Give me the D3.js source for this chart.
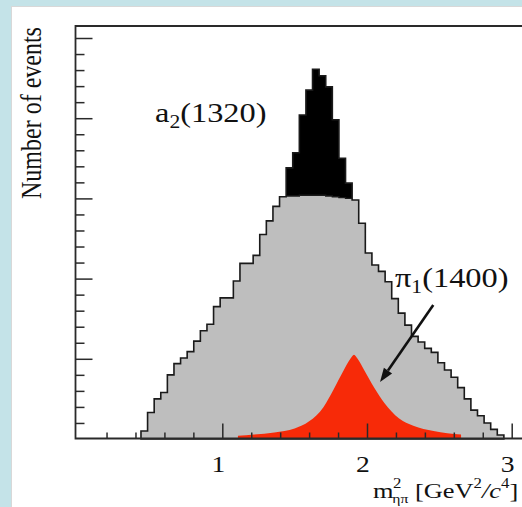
<!DOCTYPE html>
<html><head><meta charset="utf-8">
<script src="https://cdn.jsdelivr.net/npm/d3@7"></script>
<style>html,body{margin:0;padding:0;background:#c4e3e8;} svg{display:block}</style>
</head><body>
<svg id="c" width="522" height="507"></svg>
<script>
// ---- data ----
const binStart = 0.438;          // left edge of first bin, GeV^2/c^4
const binWidth = 0.0456;
const bgCounts = [10,33,50,58,80,94,101,109,122,135,143,165,176,176,197,219,219,229,255,272,290,302,
  303,303,304,304,304,304,303,302,301,300,
  298,269,232,217,209,196,175,157,142,128,121,113,108,95,86,77,64,50,36,29,20,12,5];
const a2FirstBin = 22;
const a2Counts = [35,54,100,131,157,149,136,96,49,19];
const pi1X = [1.108,1.22,1.36,1.50,1.60,1.70,1.77,1.84,1.885,1.91,1.935,1.98,2.05,2.12,2.22,2.32,2.46,2.65];
const pi1Y = [4,5.5,8,13,22,40,62,86,100,105,100,86,64,45,26,16.5,10,5.6];
const xMajorTicks = [1,2,3];
const xMinorTicks = [0.2,0.4,0.6,0.8,1.2,1.4,1.6,1.8,2.2,2.4,2.6,2.8,3.2];
const xTickLabels = ["1","2","3"];
const yMajorTicks = [100,200,300,400,500];
const yMinorTicks = [20,40,60,80,120,140,160,180,220,240,260,280,320,340,360,380,420,440,460,480];
const arrowFrom = [2.458,167];
const arrowTo = [2.09,71];

// ---- layout ----
const svg = d3.select("#c");
const FRAME = {left:75.5, top:26, bottom:438.5, right:540};
const x = d3.scaleLinear().domain([0,3.2]).range([77.6, 77.6+3.2*144.7]);
const y = d3.scaleLinear().domain([0,515]).range([439, 439-515*0.802]);
const serif = "'Liberation Serif','Times New Roman',serif";

// white panel
svg.append("rect").attr("x",11.5).attr("y",6.5).attr("width",560).attr("height",560)
  .attr("fill","#fff").attr("stroke","#d8d8d8").attr("stroke-width",1);

const bins = bgCounts.map((c,i)=>({x0:binStart+i*binWidth, x1:binStart+(i+1)*binWidth, bg:c,
  a2: (i>=a2FirstBin && i<a2FirstBin+a2Counts.length)? a2Counts[i-a2FirstBin] : 0}));

function stepPath(vals){
  let p = `M${x(bins[0].x0)},${y(0)}`;
  bins.forEach(b=>{ p += `L${x(b.x0)},${y(vals(b))}L${x(b.x1)},${y(vals(b))}`; });
  p += `L${x(bins[bins.length-1].x1)},${y(0)}Z`;
  return p;
}
// total (bg + a2) filled black, background drawn grey on top
svg.append("path").attr("d", stepPath(b=>b.bg+b.a2)).attr("fill","#000");
svg.append("path").attr("d", stepPath(b=>b.bg)).attr("fill","#bebebe");
// outline of total
svg.append("path").attr("d", stepPath(b=>b.bg+b.a2)).attr("fill","none")
  .attr("stroke","#1a1a1a").attr("stroke-width",1.6);
// dividing line between grey and black
const a2bins = bins.filter(b=>b.a2>0);
svg.append("path").attr("d", "M"+a2bins.map(b=>`${x(b.x0)},${y(b.bg)}L${x(b.x1)},${y(b.bg)}`).join("L"))
  .attr("fill","none").attr("stroke","#1a1a1a").attr("stroke-width",1.4);

// pi1 red curve
const pts = pi1X.map((v,i)=>[v,pi1Y[i]]);
svg.append("path").datum(pts)
  .attr("d", d3.area().x(d=>x(d[0])).y0(y(0)).y1(d=>y(d[1])).curve(d3.curveMonotoneX))
  .attr("fill","#f72a08");

// axes ticks
const gy1 = svg.append("g").attr("transform",`translate(${FRAME.left},0)`)
  .call(d3.axisRight(y).tickValues(yMinorTicks).tickSize(9).tickFormat(""));
const gy2 = svg.append("g").attr("transform",`translate(${FRAME.left},0)`)
  .call(d3.axisRight(y).tickValues(yMajorTicks).tickSize(17).tickFormat(""));
const gx1 = svg.append("g").attr("transform",`translate(0,${FRAME.bottom})`)
  .call(d3.axisTop(x).tickValues(xMinorTicks).tickSize(6).tickFormat(""));
const gx2 = svg.append("g").attr("transform",`translate(0,${FRAME.bottom})`)
  .call(d3.axisTop(x).tickValues(xMajorTicks).tickSize(15).tickFormat(""));
[gy1,gy2,gx1,gx2].forEach(g=>{ g.select(".domain").remove();
  g.selectAll("line").attr("stroke","#2a2a2a").attr("stroke-width",1.5); });

// frame
const fr = svg.append("g").attr("stroke","#2a2a2a").attr("stroke-width",1.8).attr("fill","none");
fr.append("path").attr("d",`M${FRAME.right},${FRAME.top}H${FRAME.left}V${FRAME.bottom}H${FRAME.right}`);

// helper for horizontally stretched text
function stext(xp, yp, anchor, size){
  return svg.append("g").attr("transform",`translate(${xp},${yp}) scale(1.2,1)`)
    .append("text").attr("text-anchor",anchor).attr("font-family",serif)
    .attr("font-size",size).attr("fill","#111");
}
// tick labels
xMajorTicks.forEach((v,i)=>{ stext(x(v)-4, 472, "middle", 23).text(xTickLabels[i]); });

// y title (rotated)
svg.append("g").attr("transform",`translate(41,113) scale(1.2,1) rotate(-90)`)
  .append("text").attr("text-anchor","middle").attr("font-family",serif)
  .attr("font-size",24).attr("fill","#111").text("Number of events");

// x title
const xt = stext(373, 498, "start", 22);
xt.append("tspan").text("m");
xt.append("tspan").attr("font-size",14).attr("dy",-10).attr("dx",-0.5).text("2");
xt.append("tspan").attr("font-size",13).attr("dy",15).attr("dx",-7.5).text("ηπ");
xt.append("tspan").attr("dy",-5).text(" [GeV");
xt.append("tspan").attr("font-size",14).attr("dy",-10).text("2");
xt.append("tspan").attr("dy",10).attr("font-style","italic").text("/c");
xt.append("tspan").attr("font-size",14).attr("dy",-10).text("4");
xt.append("tspan").attr("dy",10).text("]");

// annotations
const a2t = stext(155, 122, "start", 27);
a2t.append("tspan").text("a");
a2t.append("tspan").attr("font-size",18).attr("dy",6).text("2");
a2t.append("tspan").attr("dy",-6).text("(1320)");

const pit = stext(395, 287, "start", 27);
pit.append("tspan").text("π");
pit.append("tspan").attr("font-size",18).attr("dy",6).text("1");
pit.append("tspan").attr("dy",-6).text("(1400)");

// arrow
const ax0 = x(arrowFrom[0]), ay0 = y(arrowFrom[1]), ax1 = x(arrowTo[0]), ay1 = y(arrowTo[1]);
const ang = Math.atan2(ay1-ay0, ax1-ax0), L = 14, W = 5;
const bx = ax1 - L*Math.cos(ang), by = ay1 - L*Math.sin(ang);
svg.append("line").attr("x1",ax0).attr("y1",ay0).attr("x2",bx).attr("y2",by)
  .attr("stroke","#111").attr("stroke-width",2.6);
svg.append("path").attr("d",`M${ax1},${ay1}L${bx+W*Math.sin(ang)},${by-W*Math.cos(ang)}L${bx-W*Math.sin(ang)},${by+W*Math.cos(ang)}Z`)
  .attr("fill","#111");
</script>
</body></html>
